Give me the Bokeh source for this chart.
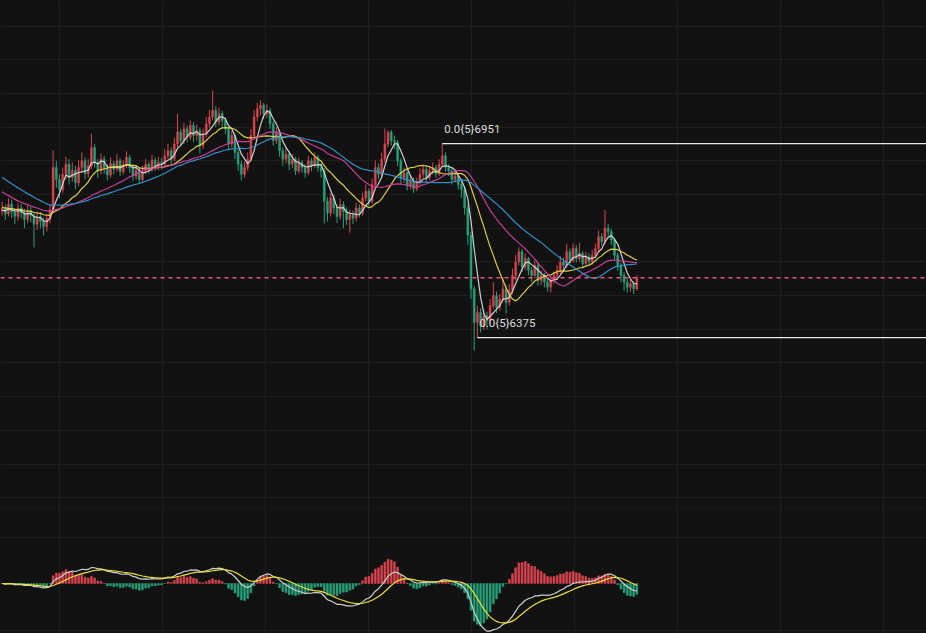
import numpy as np
import pandas as pd
from bokeh.plotting import figure
from bokeh.layouts import column
from bokeh.models import Range1d, FixedTicker, Grid, Span
from bokeh.embed import file_html
from bokeh.resources import INLINE
from bokeh.core.properties import value

# ---------------- data (price in units of 1e-9) ----------------
warmup_close = [7030, 7010, 7025, 6995, 6980, 7000, 6970, 6960, 6975, 6945,
                6930, 6950, 6915, 6900, 6920, 6890, 6870,
                6850, 6835, 6860, 6820, 6810, 6830, 6795, 6780, 6800, 6770, 6785, 6760, 6775, 6765,
                6750, 6780, 6760, 6745, 6770, 6755, 6740, 6765, 6750]

close = [6760, 6742, 6771, 6748, 6735, 6760, 6745, 6726, 6752, 6738,
         6712, 6735, 6720, 6705, 6728, 6755, 6880, 6845, 6815, 6860,
         6890, 6850, 6872, 6835, 6880, 6900, 6862, 6885, 6940, 6895,
         6870, 6905, 6880, 6858, 6892, 6875, 6900, 6868, 6885, 6910,
         6880, 6855, 6872, 6845, 6868, 6890, 6875, 6902, 6880, 6895,
         6890, 6915, 6930, 6905, 6950, 6985, 6960, 6995, 6970, 7005,
         6975, 6990, 6945, 6980, 7010, 7030, 7050, 7015, 7040, 7020,
         6995, 6950, 6975, 6925, 6890, 6860, 6880, 6905, 6975, 7030,
         7055, 7065, 7040, 7050, 7010, 6960, 6985, 6930, 6905, 6920,
         6890, 6905, 6870, 6895, 6880, 6865, 6900, 6885, 6910, 6880,
         6870, 6780, 6745, 6790, 6760, 6735, 6770, 6750, 6725, 6740,
         6730, 6760, 6745, 6790, 6810, 6780, 6830, 6880, 6860, 6905,
         6950, 6985, 6960, 6955, 6900, 6850, 6865, 6825, 6840, 6818,
         6835, 6860, 6875, 6850, 6870, 6880, 6862, 6890, 6915, 6880,
         6870, 6845, 6855, 6830, 6815, 6760, 6680, 6520, 6420, 6450,
         6410, 6440, 6425, 6470, 6500, 6465, 6490, 6520, 6480, 6515,
         6560, 6600, 6630, 6585, 6610, 6575, 6560, 6590, 6545, 6560,
         6540, 6525, 6545, 6560, 6575, 6600, 6590, 6630, 6605, 6640,
         6610, 6625, 6595, 6615, 6600, 6620, 6640, 6675, 6660, 6700,
         6690, 6665, 6620, 6590, 6560, 6540, 6525, 6535, 6520, 6553]

open_ = [6750, 6760, 6742, 6771, 6748, 6735, 6760, 6745, 6726, 6752,
         6738, 6712, 6735, 6720, 6705, 6728, 6755, 6880, 6845, 6815,
         6860, 6890, 6850, 6872, 6835, 6880, 6900, 6862, 6885, 6940,
         6895, 6870, 6905, 6880, 6858, 6892, 6875, 6900, 6868, 6885,
         6910, 6880, 6855, 6872, 6845, 6868, 6890, 6875, 6902, 6880,
         6895, 6890, 6915, 6930, 6905, 6950, 6985, 6960, 6995, 6970,
         7005, 6975, 6990, 6945, 6980, 7010, 7030, 7050, 7015, 7040,
         7020, 6995, 6950, 6975, 6925, 6890, 6860, 6880, 6905, 6975,
         7030, 7055, 7065, 7040, 7050, 7010, 6960, 6985, 6930, 6905,
         6920, 6890, 6905, 6870, 6895, 6880, 6865, 6900, 6885, 6910,
         6880, 6870, 6780, 6745, 6790, 6760, 6735, 6770, 6750, 6725,
         6740, 6730, 6760, 6745, 6790, 6810, 6780, 6830, 6880, 6860,
         6905, 6950, 6985, 6960, 6955, 6900, 6850, 6865, 6825, 6840,
         6818, 6835, 6860, 6875, 6850, 6870, 6880, 6862, 6890, 6915,
         6880, 6870, 6845, 6855, 6830, 6815, 6760, 6680, 6520, 6420,
         6450, 6410, 6440, 6425, 6470, 6500, 6465, 6490, 6520, 6480,
         6515, 6560, 6600, 6630, 6585, 6610, 6575, 6560, 6590, 6545,
         6560, 6540, 6525, 6545, 6560, 6575, 6600, 6590, 6630, 6605,
         6640, 6610, 6625, 6595, 6615, 6600, 6620, 6640, 6675, 6660,
         6700, 6690, 6665, 6620, 6590, 6560, 6540, 6525, 6535, 6520]

high = [6778, 6770, 6790, 6785, 6760, 6775, 6772, 6758, 6768, 6765,
        6745, 6750, 6748, 6732, 6742, 6770, 6931, 6900, 6860, 6880,
        6912, 6905, 6895, 6885, 6902, 6925, 6910, 6905, 6981, 6950,
        6905, 6922, 6915, 6890, 6910, 6900, 6920, 6908, 6902, 6928,
        6918, 6890, 6888, 6880, 6885, 6905, 6898, 6918, 6910, 6912,
        6908, 6935, 6950, 6940, 6968, 7040, 6995, 7012, 7005, 7020,
        7015, 7008, 6998, 6995, 7030, 7052, 7109, 7062, 7058, 7048,
        7030, 7002, 6990, 6982, 6935, 6900, 6898, 6925, 6995, 7050,
        7072, 7079, 7072, 7068, 7058, 7018, 7000, 6992, 6940, 6938,
        6928, 6920, 6912, 6910, 6902, 6890, 6915, 6908, 6925, 6918,
        6892, 6878, 6792, 6805, 6800, 6770, 6788, 6780, 6762, 6755,
        6752, 6775, 6770, 6805, 6830, 6818, 6848, 6901, 6892, 6925,
        6996, 6990, 6992, 6975, 6962, 6908, 6880, 6872, 6855, 6850,
        6850, 6878, 6890, 6882, 6885, 6895, 6888, 6905, 6951, 6925,
        6890, 6878, 6870, 6862, 6840, 6822, 6770, 6690, 6530, 6470,
        6462, 6458, 6452, 6490, 6540, 6512, 6505, 6554, 6530, 6535,
        6580, 6620, 6643, 6638, 6625, 6615, 6585, 6604, 6598, 6575,
        6568, 6550, 6558, 6572, 6590, 6618, 6612, 6654, 6640, 6655,
        6650, 6657, 6632, 6630, 6625, 6635, 6655, 6693, 6685, 6755,
        6712, 6698, 6672, 6628, 6598, 6570, 6550, 6548, 6542, 6560]

low = [6738, 6725, 6735, 6730, 6712, 6722, 6730, 6700, 6715, 6718,
       6643, 6695, 6700, 6678, 6690, 6715, 6745, 6820, 6790, 6805,
       6845, 6830, 6838, 6815, 6825, 6865, 6845, 6850, 6875, 6880,
       6850, 6860, 6862, 6842, 6850, 6860, 6868, 6855, 6860, 6878,
       6865, 6840, 6845, 6833, 6838, 6860, 6862, 6868, 6870, 6872,
       6875, 6882, 6905, 6890, 6898, 6940, 6945, 6950, 6955, 6962,
       6955, 6960, 6922, 6935, 6970, 6998, 7020, 7000, 7005, 7000,
       6980, 6932, 6940, 6905, 6870, 6842, 6850, 6870, 6898, 6965,
       7018, 7035, 7025, 7028, 6995, 6945, 6950, 6912, 6885, 6892,
       6872, 6878, 6858, 6862, 6865, 6850, 6858, 6870, 6878, 6868,
       6850, 6714, 6720, 6735, 6742, 6715, 6725, 6700, 6710, 6687,
       6712, 6720, 6732, 6738, 6780, 6765, 6772, 6820, 6845, 6850,
       6895, 6940, 6945, 6935, 6885, 6830, 6835, 6812, 6815, 6805,
       6810, 6828, 6850, 6838, 6842, 6860, 6850, 6855, 6882, 6868,
       6855, 6830, 6835, 6815, 6790, 6740, 6650, 6490, 6337, 6375,
       6390, 6398, 6400, 6415, 6460, 6448, 6455, 6480, 6447, 6470,
       6505, 6545, 6590, 6570, 6575, 6560, 6540, 6550, 6530, 6532,
       6524, 6512, 6509, 6535, 6548, 6565, 6575, 6582, 6592, 6598,
       6598, 6600, 6583, 6588, 6590, 6592, 6610, 6630, 6648, 6652,
       6670, 6650, 6605, 6574, 6540, 6515, 6509, 6512, 6505, 6515]

ma_periods = [5, 15, 30, 40]
ma_colors = ["#dadada", "#e6d84a", "#d0409e", "#3596d0"]

high_mark_idx, high_mark = 138, 6951
low_mark_idx, low_mark = 149, 6375
mark_labels = ["0.0{5}6951", "0.0{5}6375"]

# ---------------- derived ----------------
BG = "#121212"
GRID = "#1f1f1f"
UP = "#d9454f"
DOWN = "#26a17b"

n = len(close)
idx = np.arange(n)
o = np.array(open_, float)
c = np.array(close, float)
colors = [UP if c[i] >= o[i] else DOWN for i in range(n)]
top = np.maximum(o, c)
bot = np.minimum(o, c)

allc = pd.Series(warmup_close + close, dtype=float)
mas = [allc.rolling(pp, min_periods=1).mean().values[len(warmup_close):] for pp in ma_periods]

cs = pd.Series(close, dtype=float)
dif = cs.ewm(span=12, adjust=False).mean() - cs.ewm(span=26, adjust=False).mean()
dea = dif.ewm(span=9, adjust=False).mean()
hist = 2 * (dif - dea)

W = 926
H_MAIN = 508
H_MACD = 125
X0, X1 = -0.5, 289.8
x_range = Range1d(X0, X1)
vticks = [18 + 32.3 * k for k in range(9)]

# ---------------- main pane ----------------
p = figure(width=W, height=H_MAIN, x_range=x_range, y_range=Range1d(5868, 7376),
           x_axis_type=None, y_axis_type=None, output_backend="svg",
           toolbar_location=None, background_fill_color=BG, border_fill_color=BG,
           min_border=0, outline_line_color=None)
p.add_layout(Grid(dimension=0, ticker=FixedTicker(ticks=vticks), grid_line_color=GRID))
p.add_layout(Grid(dimension=1, ticker=FixedTicker(ticks=list(range(5900, 7400, 100))),
                  grid_line_color=GRID))

p.segment(idx, high, idx, low, color=colors, line_width=1)
p.vbar(x=idx, width=0.6, top=top, bottom=bot, fill_color=colors, line_color=colors, line_width=0.5)

for m, col in zip(mas, ma_colors):
    p.line(idx, m, line_color=col, line_width=1.2, line_alpha=0.95)

p.add_layout(Span(location=close[-1], dimension="width", line_color="#e3577f",
                  line_dash="4 4", line_width=1.3))

p.segment([high_mark_idx, low_mark_idx], [high_mark, low_mark], [X1, X1], [high_mark, low_mark],
          line_color="#e8e8e8", line_width=1.2)
p.text([high_mark_idx, low_mark_idx], [high_mark, low_mark], text=mark_labels,
       text_color="#dddddd", text_font=value("Roboto"), text_font_size="11.5px",
       text_baseline="bottom", text_align="left", x_offset=2, y_offset=-8)

# ---------------- MACD pane ----------------
lo = float(min(dif.min(), dea.min(), hist.min())) * 1.05
hi = -lo * 1.5
q = figure(width=W, height=H_MACD, x_range=x_range, y_range=Range1d(lo, hi),
           x_axis_type=None, y_axis_type=None, output_backend="svg",
           toolbar_location=None, background_fill_color=BG, border_fill_color=BG,
           min_border=0, outline_line_color=None)
q.add_layout(Grid(dimension=0, ticker=FixedTicker(ticks=vticks), grid_line_color=GRID))
q.add_layout(Grid(dimension=1, ticker=FixedTicker(ticks=[hi * 0.995, hi * 0.61, lo * 0.94]),
                  grid_line_color=GRID))
hcol = [UP if h >= 0 else DOWN for h in hist]
q.vbar(x=idx, width=0.6, top=hist.values, bottom=0, fill_color=hcol, line_color=hcol, line_width=0.5)
q.line(idx, dif.values, line_color="#cfcfcf", line_width=1.2)
q.line(idx, dea.values, line_color="#e8de3a", line_width=1.2)

layout = column(p, q, spacing=0, styles={"background-color": BG})
open("out.html", "w").write(file_html(layout, INLINE))
